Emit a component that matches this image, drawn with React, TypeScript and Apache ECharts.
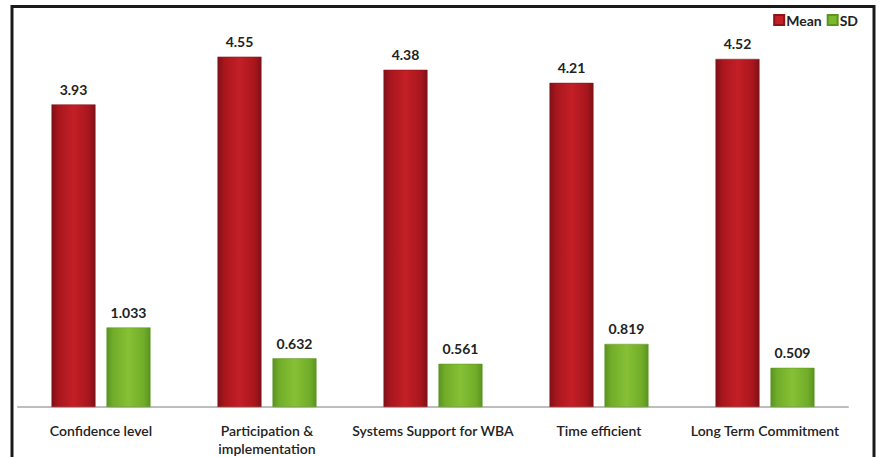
import React, { useEffect, useRef } from "react";
import * as echarts from "echarts";

const categories = [
  "Confidence level",
  "Participation &\nimplementation",
  "Systems Support for WBA",
  "Time efficient",
  "Long Term Commitment",
];
const meanValues = [3.93, 4.55, 4.38, 4.21, 4.52];
const sdValues = [1.033, 0.632, 0.561, 0.819, 0.509];
const meanLabels = ["3.93", "4.55", "4.38", "4.21", "4.52"];
const sdLabels = ["1.033", "0.632", "0.561", "0.819", "0.509"];

const FONT = "Lato, 'Open Sans', sans-serif";

export default function App() {
  const ref = useRef<HTMLDivElement>(null);
  useEffect(() => {
    if (!ref.current) return;
    const chart = echarts.init(ref.current, undefined, { renderer: "svg" });
    const redGrad = new echarts.graphic.LinearGradient(0, 0, 1, 0, [
      { offset: 0, color: "#7e1116" },
      { offset: 0.15, color: "#a8161d" },
      { offset: 0.5, color: "#c41f27" },
      { offset: 0.85, color: "#a8161d" },
      { offset: 1, color: "#7e1116" },
    ]);
    const greenGrad = new echarts.graphic.LinearGradient(0, 0, 1, 0, [
      { offset: 0, color: "#5a9421" },
      { offset: 0.15, color: "#72ad2a" },
      { offset: 0.5, color: "#86c036" },
      { offset: 0.85, color: "#72ad2a" },
      { offset: 1, color: "#5a9421" },
    ]);
    const valueLabel = (labels: string[]) => ({
      show: true,
      position: "top",
      distance: 8,
      fontFamily: FONT,
      fontWeight: "bold",
      fontSize: 14,
      color: "#222",
      formatter: (p: any) => labels[p.dataIndex],
    });
    chart.setOption({
      animation: false,
      backgroundColor: "#ffffff",
      textStyle: { fontFamily: FONT },
      legend: {
        right: 16,
        top: 8,
        icon: "rect",
        itemWidth: 10,
        itemHeight: 10,
        itemGap: 5,
        textStyle: { fontFamily: FONT, fontWeight: "bold", fontSize: 14, color: "#222", padding: [0, 0, 0, -3] },
        data: [
          { name: "Mean", itemStyle: { color: "#c41f27" } },
          { name: "SD", itemStyle: { color: "#7ab82e" } },
        ],
      },
      grid: { left: 18, right: 31, top: 22, bottom: 49, containLabel: false },
      xAxis: {
        type: "category",
        data: categories,
        axisLine: { show: true, lineStyle: { color: "#bdbdbd", width: 2 } },
        axisTick: { show: false },
        axisLabel: {
          interval: 0,
          margin: 14,
          fontFamily: FONT,
          fontWeight: 600,
          fontSize: 14,
          color: "#222",
          lineHeight: 18,
        },
      },
      yAxis: {
        type: "value",
        min: 0,
        max: 5,
        show: false,
        splitLine: { show: false },
      },
      series: [
        {
          name: "Mean",
          type: "bar",
          data: meanValues,
          barWidth: 44,
          barGap: "25%",
          itemStyle: { color: redGrad, borderColor: "#8a1418", borderWidth: 0.5 },
          label: valueLabel(meanLabels),
        },
        {
          name: "SD",
          type: "bar",
          data: sdValues,
          barWidth: 44,
          itemStyle: { color: greenGrad, borderColor: "#5a9421", borderWidth: 0.5 },
          label: valueLabel(sdLabels),
        },
      ],
      graphic: [
        {
          type: "rect",
          shape: { x: 12, y: 6.5, width: 862, height: 470 },
          style: { fill: "none", stroke: "#1a1a1a", lineWidth: 3 },
          silent: true,
          z: 100,
        },
      ],
    });
    return () => chart.dispose();
  }, []);
  return (
    <div
      ref={ref}
      style={{ position: "absolute", left: 0, top: 0, width: 879, height: 457 }}
    />
  );
}
